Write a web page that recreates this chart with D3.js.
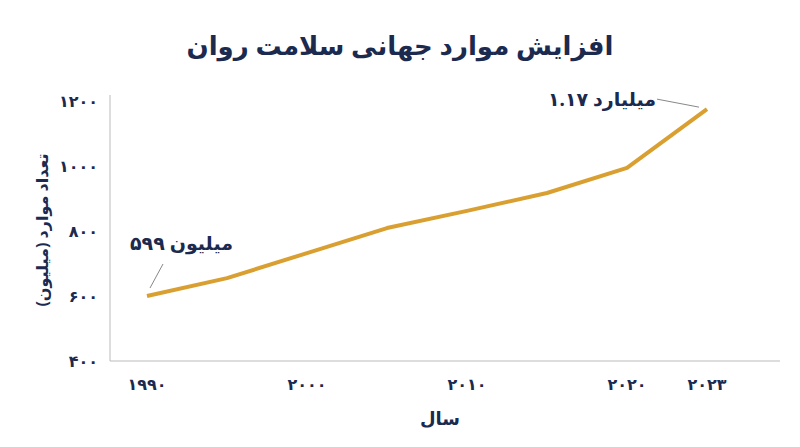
<!DOCTYPE html>
<html><head><meta charset="utf-8">
<script src="https://cdn.jsdelivr.net/npm/d3@7"></script>
<style>body{margin:0;background:#fff}text{font-family:"Noto Sans","DejaVu Sans",sans-serif}</style>
</head><body><svg id="c" width="800" height="447"></svg>
<script>
const years=["1990","1995","2000","2005","2010","2015","2020","2023"];
const cases=[600,655,732,809,862,917,994,1175];
const xTickYears=["1990","2000","2010","2020","2023"];
const xTickLabels=["۱۹۹۰","۲۰۰۰","۲۰۱۰","۲۰۲۰","۲۰۲۳"];
const yTicks=[400,600,800,1000,1200];
const yTickLabels=["۴۰۰","۶۰۰","۸۰۰","۱۰۰۰","۱۲۰۰"];
const navy="#1b2a4e", gold="#d9a031";
const svg=d3.select("#c");
const x=d3.scalePoint().domain(years).range([147,707]);
const y=d3.scaleLinear().domain([400,1200]).range([361,101]);
svg.append("text").attr("x",400).attr("y",55).attr("text-anchor","middle").attr("font-size",26).attr("font-weight","bold").attr("fill",navy).text("افزایش موارد جهانی سلامت روان");
svg.append("line").attr("x1",110).attr("x2",110).attr("y1",95).attr("y2",361).attr("stroke","#bbb");
svg.append("line").attr("x1",110).attr("x2",780).attr("y1",361).attr("y2",361).attr("stroke","#bbb");
yTicks.forEach((t,i)=>svg.append("text").attr("x",98).attr("y",y(t)+6).attr("text-anchor","end").attr("font-size",16).attr("font-weight","bold").attr("fill",navy).text(yTickLabels[i]));
xTickYears.forEach((t,i)=>svg.append("text").attr("x",x(t)).attr("y",390).attr("text-anchor","middle").attr("font-size",16).attr("font-weight","bold").attr("fill",navy).text(xTickLabels[i]));
svg.append("text").attr("x",440).attr("y",425).attr("text-anchor","middle").attr("font-size",18).attr("font-weight","bold").attr("fill",navy).text("سال");
svg.append("text").attr("transform","translate(48,230) rotate(-90)").attr("text-anchor","middle").attr("font-size",16).attr("font-weight","bold").attr("fill",navy).text("تعداد موارد (میلیون)");
svg.append("path").datum(years.map((d,i)=>[x(d),y(cases[i])])).attr("d",d3.line()).attr("fill","none").attr("stroke",gold).attr("stroke-width",4).attr("stroke-linejoin","round");
const p0=[x("1990"),y(600)], p1=[x("2023"),y(1175)];
svg.append("line").attr("x1",p0[0]+3).attr("y1",p0[1]-8).attr("x2",p0[0]+16).attr("y2",p0[1]-32).attr("stroke","#888");
svg.append("text").attr("x",130).attr("y",250).attr("font-size",19).attr("font-weight","bold").attr("fill",navy).text("۵۹۹ میلیون");
svg.append("line").attr("x1",p1[0]-8).attr("y1",p1[1]-2).attr("x2",p1[0]-50).attr("y2",p1[1]-10).attr("stroke","#888");
svg.append("text").attr("x",548).attr("y",106).attr("font-size",19).attr("font-weight","bold").attr("fill",navy).text("۱.۱۷ میلیارد");
</script></body></html>
